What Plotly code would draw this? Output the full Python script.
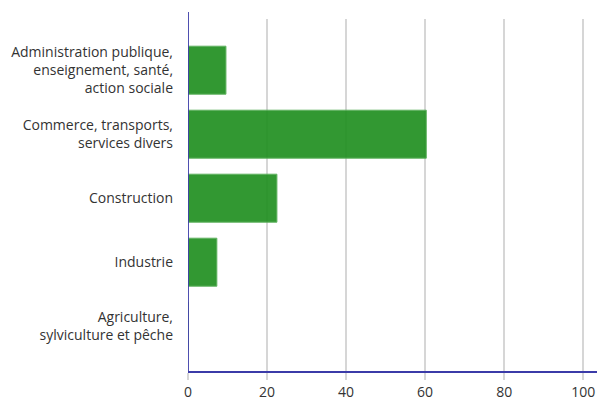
import plotly.graph_objects as go

categories = [
    "Agriculture,<br>sylviculture et pêche",
    "Industrie",
    "Construction",
    "Commerce, transports,<br>services divers",
    "Administration publique,<br>enseignement, santé,<br>action sociale",
]
values = [0, 7.3, 22.5, 60.3, 9.6]
x_ticks = [0, 20, 40, 60, 80, 100]

fig = go.Figure(
    go.Bar(
        x=values,
        y=categories,
        orientation="h",
        width=0.75,
        marker=dict(color="#219021", line=dict(width=1, color="#55ad55")),
        opacity=0.92,
    )
)

fig.update_layout(
    width=597,
    height=403,
    margin=dict(l=188, r=0, t=19, b=32),
    paper_bgcolor="white",
    plot_bgcolor="white",
    showlegend=False,
    font=dict(family="Open Sans", size=14, color="#333333"),
    xaxis=dict(
        range=[0, 103.5],
        tickvals=x_ticks,
        showgrid=True,
        gridcolor="#d6d6d6",
        gridwidth=2,
        zeroline=False,
        showline=True,
        linecolor="#3b3ba8",
        linewidth=1.6,
        ticks="outside",
        ticklen=7,
        tickcolor="#d6d6d6",
        tickwidth=2,
        tickfont=dict(size=14, color="#333333"),
    ),
    yaxis=dict(
        range=[-0.7, 4.8],
        showgrid=False,
        zeroline=False,
        showline=False,
        ticks="",
        ticklabelstandoff=14,
        tickfont=dict(size=14, color="#333333"),
    ),
    shapes=[
        dict(
            type="line",
            xref="x",
            yref="paper",
            x0=0,
            x1=0,
            y0=0,
            y1=1.02,
            line=dict(color="#3b3ba8", width=1.8),
            layer="above",
        )
    ],
)

fig.write_html(
    "out.html",
    config={"displayModeBar": False},
    post_script="document.body.style.margin='0';document.body.style.overflow='hidden';",
)
